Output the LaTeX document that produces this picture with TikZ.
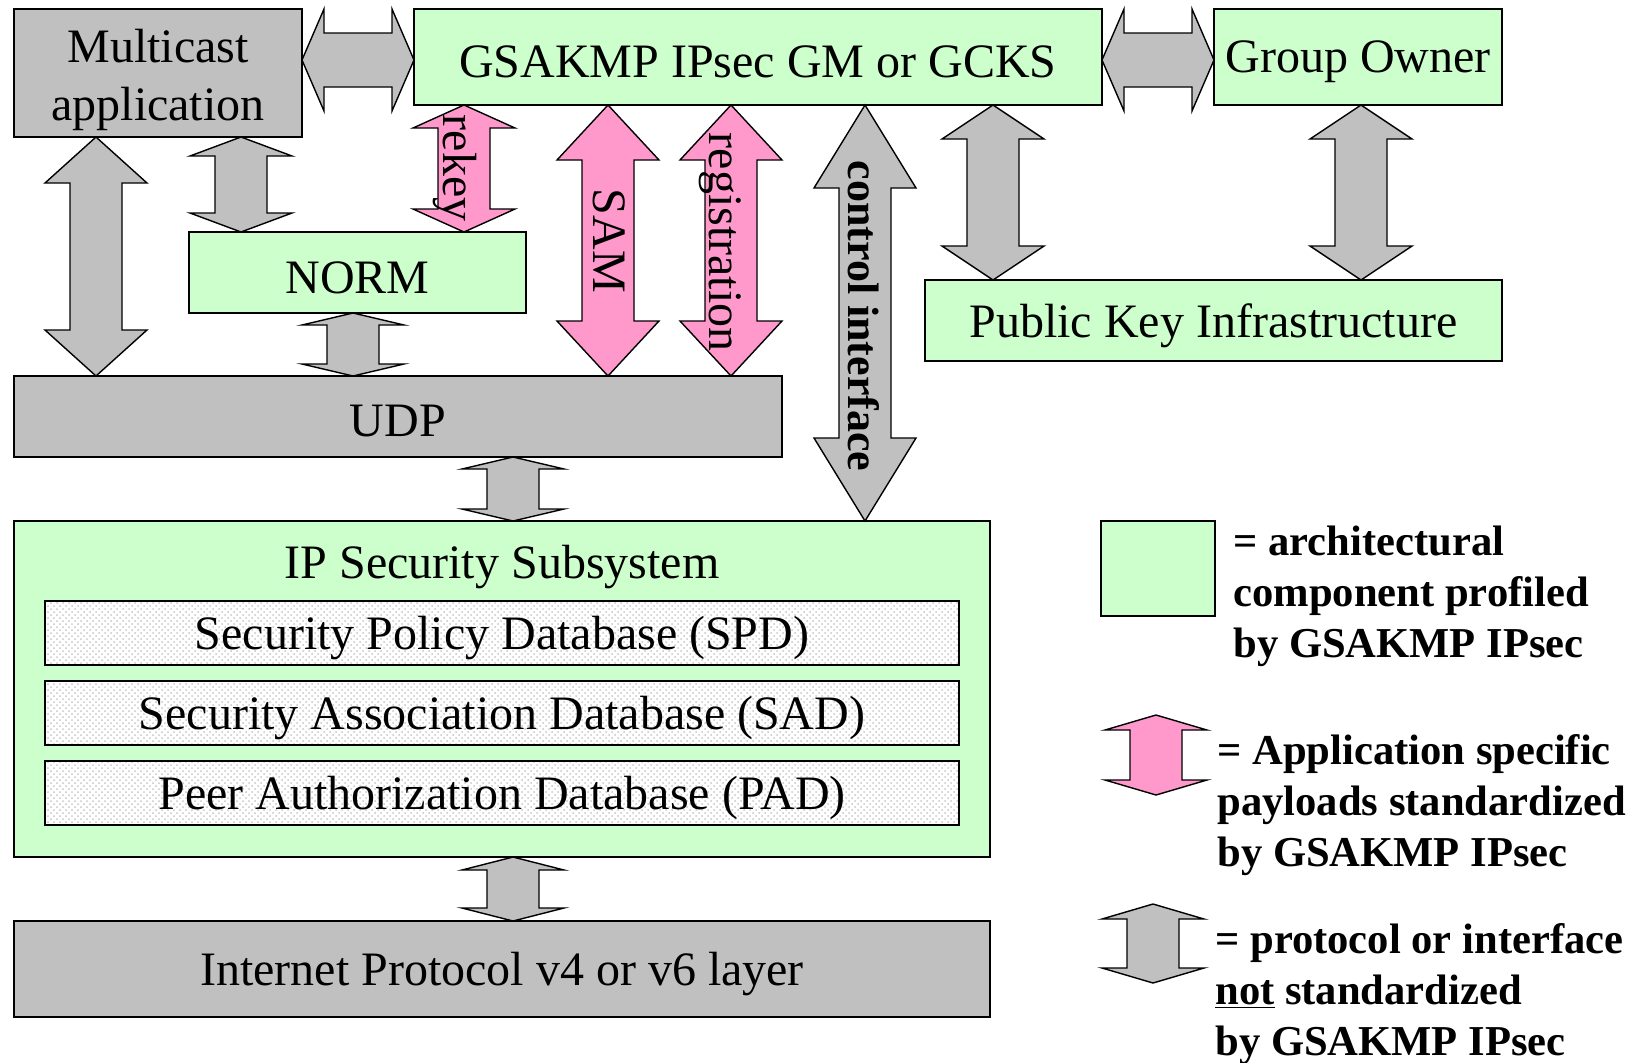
\documentclass[tikz,border=0pt]{standalone}
\usepackage{fontspec}
\setmainfont{Liberation Serif}
\usetikzlibrary{positioning}
\usetikzlibrary{calc}
\usetikzlibrary{fit}
\usetikzlibrary{patterns}
\definecolor{compgreen}{RGB}{204,255,204}
\definecolor{ifgray}{RGB}{192,192,192}
\definecolor{stdpink}{RGB}{255,153,204}
\newcommand{\mainsize}{\fontsize{24}{28.8}\selectfont}
\newcommand{\legsize}{\fontsize{21.3}{25.5}\selectfont\bfseries}
% vertical block arrow: fill, upper tip, lower tip, head length
\newcommand{\vlink}[4]{
    \coordinate (vt) at (#2);
    \coordinate (vb) at (#3);
    \draw[blockarrow, fill=#1] (vt) -- ([shift={(51,#4)}]vt) -- ([shift={(26,#4)}]vt)
        -- ([shift={(26,-#4)}]vb) -- ([shift={(51,-#4)}]vb) -- (vb)
        -- ([shift={(-51,-#4)}]vb) -- ([shift={(-26,-#4)}]vb)
        -- ([shift={(-26,#4)}]vt) -- ([shift={(-51,#4)}]vt) -- cycle;
}
% horizontal block arrow: fill, left tip, right tip, head length
\newcommand{\hlink}[4]{
    \coordinate (hl) at (#2);
    \coordinate (hr) at (#3);
    \draw[blockarrow, fill=#1] (hl) -- ([shift={(#4,-51)}]hl) -- ([shift={(#4,-27)}]hl)
        -- ([shift={(-#4,-27)}]hr) -- ([shift={(-#4,-51)}]hr) -- (hr)
        -- ([shift={(-#4,51)}]hr) -- ([shift={(-#4,27)}]hr)
        -- ([shift={(#4,27)}]hl) -- ([shift={(#4,51)}]hl) -- cycle;
}

\begin{document}
\begin{tikzpicture}[x=0.5pt, y=-0.5pt,
    box/.style={draw, line width=1.1pt, inner sep=0pt, outer sep=0pt},
    greenbox/.style={box, fill=compgreen},
    graybox/.style={box, fill=ifgray},
    dbbox/.style={box, preaction={fill=white}, pattern=crosshatch dots, pattern color=black!22},
    boxtext/.style={font=\mainsize, align=center, inner sep=0pt, yshift=-2.5pt},
    blockarrow/.style={draw, line width=0.7pt, line join=miter},
    vlabel/.style={rotate=-90, inner sep=0pt, font=\mainsize},
    legtext/.style={font=\legsize, align=left, inner sep=0pt, anchor=base west}]
    \useasboundingbox (0,0) rectangle (1639,1062);

    % components
    \node[graybox, fit={(14,9) (302,137)}] (mc) {};
    \node[greenbox, fit={(414,9) (1102,105)}] (gs) {};
    \node[greenbox, fit={(1214,9) (1502,105)}] (go) {};
    \node[greenbox, fit={(189,232) (526,313)}] (norm) {};
    \node[graybox, fit={(14,376) (782,457)}] (udp) {};
    \node[greenbox, fit={(925,280) (1502,361)}] (pki) {};
    \node[greenbox, fit={(14,521) (990,857)}] (ipsec) {};
    \node[dbbox, fit={(45,601) (959,665)}] (spd) {};
    \node[dbbox, fit={(45,681) (959,745)}] (sad) {};
    \node[dbbox, fit={(45,761) (959,825)}] (pad) {};
    \node[graybox, fit={(14,921) (990,1017)}] (ip) {};

    \node[boxtext, yshift=-1pt] (mctext) at (mc) {Multicast\\application};
    \node[boxtext] (gstext) at (gs) {GSAKMP IPsec GM or GCKS};
    \node[boxtext] (gotext) at (go) {Group Owner};
    \node[boxtext] (normtext) at (norm) {NORM};
    \node[boxtext] (udptext) at (udp) {UDP};
    \node[boxtext] (pkitext) at (pki) {Public Key Infrastructure};
    \node[boxtext] (ipsectext) at (502,562) {IP Security Subsystem};
    \node[boxtext] (spdtext) at (spd) {Security Policy Database (SPD)};
    \node[boxtext] (sadtext) at (sad) {Security Association Database (SAD)};
    \node[boxtext] (padtext) at (pad) {Peer Authorization Database (PAD)};
    \node[boxtext] (iptext) at (ip) {Internet Protocol v4 or v6 layer};

    % interfaces
    \hlink{ifgray}{mc.east |- 0,60}{gs.west |- 0,60}{22}
    \hlink{ifgray}{gs.east |- 0,60}{go.west |- 0,60}{22}
    \foreach \c/\x/\a/\b/\h in {ifgray/96/mc/udp/46, ifgray/241/mc/norm/19,
        ifgray/353/norm/udp/12, stdpink/464/gs/norm/23, stdpink/608/gs/udp/55,
        stdpink/731/gs/udp/55, ifgray/865/gs/ipsec/83, ifgray/993/gs/pki/34,
        ifgray/1361/go/pki/34, ifgray/513/udp/ipsec/12, ifgray/513/ipsec/ip/13} {
        \vlink{\c}{\x,0 |- \a.south}{\x,0 |- \b.north}{\h}
    }

    \node[vlabel] (rekey) at (455,168) {rekey};
    \node[vlabel] (sam) at (609,241) {SAM};
    \node[vlabel] (registration) at (720,242) {registration};
    \node[vlabel, font=\fontsize{22}{26}\selectfont\bfseries] (control) at (864,316) {control interface};

    % legend
    \node[greenbox, fit={(1101,521) (1215,616)}] (legbox) {};
    \vlink{stdpink}{1156,715}{1156,795}{15}
    \vlink{ifgray}{1153,904}{1153,983}{15}
    \node[legtext] (legcomp) at (1233,657) {= architectural\\component profiled\\by GSAKMP IPsec};
    \node[legtext] (legpink) at (1217,866) {= Application specific\\payloads standardized\\by GSAKMP IPsec};
    \node[legtext] (leggray) at (1215,1055) {= protocol or interface\\\underline{not} standardized\\by GSAKMP IPsec};
\end{tikzpicture}
\end{document}
